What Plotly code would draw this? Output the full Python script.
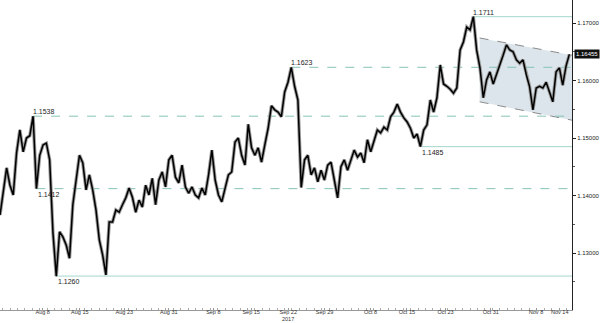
import plotly.graph_objects as go

# ---------------- data ----------------
# trading-day index (Aug 8 = 0) of first sample and spacing between samples
DAY0 = -5.355
STEP = 0.4462

price = [
    1.1366, 1.1410, 1.1448, 1.1418, 1.1401, 1.1474, 1.1514, 1.1476, 1.1500, 1.1504,
    1.1538, 1.1412, 1.1470, 1.1488, 1.1491, 1.1462, 1.1335, 1.1260, 1.1337, 1.1328,
    1.1314, 1.1291, 1.1384, 1.1427, 1.1470, 1.1457, 1.1410, 1.1436, 1.1410, 1.1375,
    1.1323, 1.1297, 1.1262, 1.1354, 1.1354, 1.1375, 1.1371, 1.1384, 1.1396, 1.1413,
    1.1397, 1.1371, 1.1392, 1.1380, 1.1418, 1.1401, 1.1430, 1.1384, 1.1427, 1.1441,
    1.1415, 1.1462, 1.1470, 1.1432, 1.1422, 1.1453, 1.1415, 1.1404, 1.1415, 1.1401,
    1.1396, 1.1413, 1.1401, 1.1436, 1.1479, 1.1427, 1.1401, 1.1389, 1.1413, 1.1436,
    1.1441, 1.1493, 1.1500, 1.1470, 1.1453, 1.1524, 1.1483, 1.1470, 1.1483, 1.1458,
    1.1488, 1.1517, 1.1556, 1.1549, 1.1545, 1.1537, 1.1580, 1.1597, 1.1623, 1.1590,
    1.1566, 1.1414, 1.1462, 1.1470, 1.1436, 1.1448, 1.1424, 1.1444, 1.1427, 1.1453,
    1.1458, 1.1424, 1.1396, 1.1450, 1.1462, 1.1444, 1.1462, 1.1479, 1.1467, 1.1474,
    1.1457, 1.1497, 1.1476, 1.1497, 1.1514, 1.1509, 1.1519, 1.1514, 1.1537, 1.1545,
    1.1559, 1.1545, 1.1535, 1.1528, 1.1517, 1.1500, 1.1507, 1.1485, 1.1514, 1.1523,
    1.1566, 1.1545, 1.1570, 1.1627, 1.1594, 1.1590, 1.1585, 1.1578, 1.1587, 1.1653,
    1.1667, 1.1693, 1.1688, 1.1711, 1.1653, 1.1622, 1.1570, 1.1601, 1.1615, 1.1594,
    1.1610, 1.1627, 1.1644, 1.1662, 1.1653, 1.1650, 1.1636, 1.1630, 1.1636, 1.1610,
    1.1589, 1.1549, 1.1587, 1.1590, 1.1587, 1.1597, 1.1580, 1.1563, 1.1615, 1.1622,
    1.1592, 1.1625, 1.16455,
]

# key levels: value, index of pivot sample, label position, line style
level_vals = [1.1538, 1.1412, 1.1260, 1.1623, 1.1485, 1.1711]
level_idx = [10, 11, 17, 88, 127, 143]
level_pos = ["above", "below", "below", "above", "below", "above"]
level_dash = ["dash", "dash", "solid", "dash", "solid", "solid"]

# falling channel (trading-day index, price)
chan_x = [59.3, 71.75]
chan_top = [1.1674, 1.1644]
chan_bot = [1.1563, 1.1531]

last_price = "1.16455"

# x-axis date labels (trading-day index)
tick_days = [0.4, 5.4, 11.4, 17.4, 23.4, 28.5, 33.5, 38.4, 44.6, 49.5, 54.7, 60.8, 66.9, 70.1]
tick_text = ["Aug 8", "Aug 15", "Aug 23", "Aug 31", "Sep 8", "Sep 15", "Sep 22",
             "Sep 29", "Oct 8", "Oct 15", "Oct 23", "Oct 31", "Nov 8", "Nov 14"]
year_day = 33.5
year_text = "2017"

X_MAX = 71.75
Y_RANGE = [1.1201, 1.1740]

# ---------------- figure ----------------
x = [DAY0 + i * STEP for i in range(len(price))]
fig = go.Figure()

# channel fill
fig.add_trace(go.Scatter(
    x=[chan_x[0], chan_x[1], chan_x[1], chan_x[0], chan_x[0]],
    y=[chan_top[0], chan_top[1], chan_bot[1], chan_bot[0], chan_top[0]],
    fill="toself", fillcolor="#dbe5eb", line=dict(width=0),
    mode="lines", hoverinfo="skip", showlegend=False))
for yy in (chan_top, chan_bot):
    fig.add_trace(go.Scatter(x=chan_x, y=yy, mode="lines",
                             line=dict(color="#8c8c8c", width=1, dash="dash"),
                             hoverinfo="skip", showlegend=False))

# level lines and labels
for v, idx, pos, dash in zip(level_vals, level_idx, level_pos, level_dash):
    x0 = x[idx]
    col = "#86c2b6" if dash == "dash" else "#a3d6cc"
    fig.add_trace(go.Scatter(x=[x0, X_MAX], y=[v, v], mode="lines",
                             line=dict(color=col, width=1, dash="dash" if dash == "dash" else None),
                             hoverinfo="skip", showlegend=False))
    fig.add_annotation(x=x0, y=v, text=f"{v:.4f}", showarrow=False,
                       xanchor="left", yanchor="bottom" if pos == "above" else "top",
                       xshift=-2 if pos == "above" else 0, yshift=-1 if pos == "above" else 0,
                       font=dict(family="Liberation Sans", size=7, color="#222"))

# price path
fig.add_trace(go.Scatter(x=x, y=price, mode="lines",
                         line=dict(color="#9a9a9a", width=3.4),
                         hoverinfo="skip", showlegend=False))
fig.add_trace(go.Scatter(x=x, y=price, mode="lines",
                         line=dict(color="#000000", width=1.5),
                         showlegend=False))

# last price marker
fig.add_annotation(xref="paper", x=1.0, y=float(last_price), text=last_price,
                   showarrow=False, xanchor="left", yanchor="middle", xshift=2,
                   bgcolor="#111", borderpad=1,
                   font=dict(family="Liberation Sans", size=6, color="white"))

# year label
fig.add_annotation(x=year_day, yref="paper", y=0, text=year_text, showarrow=False,
                   xanchor="center", yanchor="bottom", yshift=-13, borderpad=0,
                   font=dict(family="Liberation Sans", size=5.5, color="#333"))

fig.update_layout(
    width=600, height=323,
    margin=dict(l=0, r=24, t=0, b=13),
    paper_bgcolor="white", plot_bgcolor="white",
    showlegend=False,
    xaxis=dict(range=[DAY0, X_MAX], tickmode="array", tickvals=tick_days, ticktext=tick_text,
               showgrid=False, zeroline=False, showline=True, linecolor="#999", linewidth=1,
               ticks="inside", ticklen=2, tickcolor="#999", ticklabelstandoff=-4,
               minor=dict(dtick=1, tick0=0, ticks="inside", ticklen=2, tickcolor="#aaa"),
               tickfont=dict(family="Liberation Sans", size=5.5, color="#333")),
    yaxis=dict(range=Y_RANGE, side="right", dtick=0.01, tick0=1.17, tickformat=".5f",
               showgrid=False, zeroline=False, showline=True, linecolor="#222", linewidth=1,
               ticks="outside", ticklen=3, tickcolor="#222",
               minor=dict(dtick=0.005, ticks="outside", ticklen=2, tickcolor="#555"),
               tickfont=dict(family="Liberation Sans", size=6, color="#222")),
)

fig.write_html("out.html")
